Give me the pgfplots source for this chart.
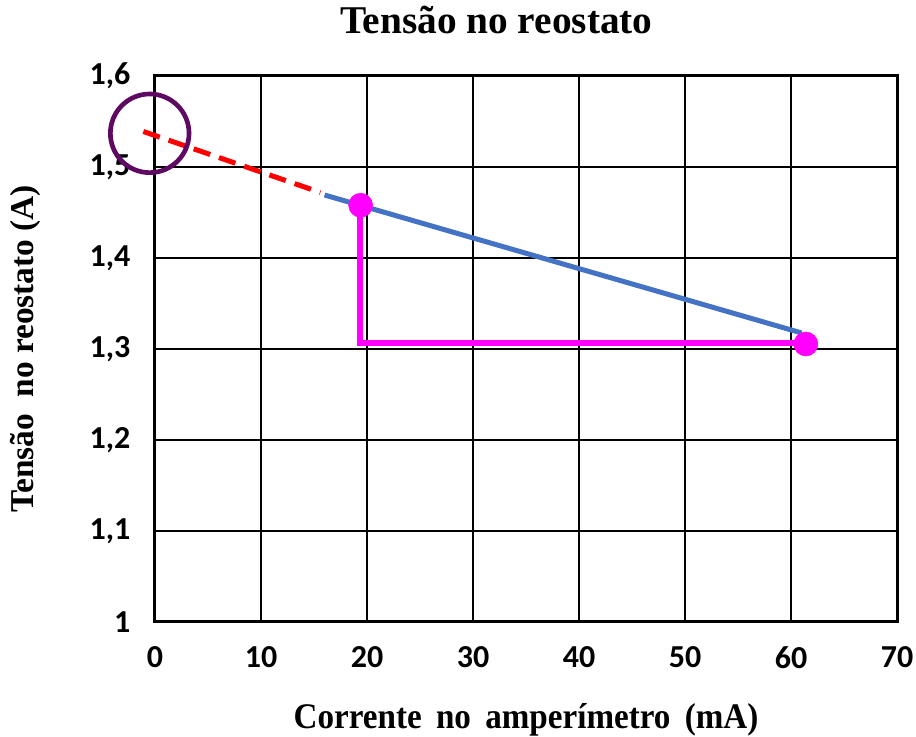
\documentclass[border=0pt]{standalone}
\usepackage{pgfplots}
\pgfplotsset{compat=1.18}
\usepackage{fontspec}
\setmainfont{Liberation Serif}
\newfontfamily\condserif[FakeStretch=0.92]{Liberation Serif}
\newfontfamily\tickfont{Carlito}
\usetikzlibrary{calc}
\definecolor{blueline}{HTML}{4472C4}
\definecolor{circpurple}{HTML}{5E0A62}
\definecolor{pinkm}{HTML}{FF00FF}
\begin{document}
\begin{tikzpicture}
\begin{axis}[name=ax,
  at={(0,0)}, anchor=south west,
  scale only axis, width=556.5pt, height=409.5pt,
  xmin=0, xmax=70, ymin=1, ymax=1.6,
  xtick={0,10,...,70}, ytick={1,1.1,1.2,1.3,1.4,1.5,1.6},
  major tick length=0pt,
  grid=major, major grid style={black, line width=1.5pt},
  axis line style={black, line width=2.25pt},
  clip=false,
  /pgf/number format/assume math mode=true,
  ticklabel style={font=\tickfont\bfseries\fontsize{24}{28}\selectfont},
  y tick label style={/pgf/number format/use comma, /pgf/number format/fixed, /pgf/number format/precision=1, xshift=-15pt},
  x tick label style={yshift=-15pt},
  title={\bfseries\fontsize{29.5}{34}\selectfont Tensão no reostato},
  title style={at={(axis description cs:0.46,1.088)}, anchor=center},
  xlabel={\condserif\bfseries\fontsize{27}{31}\selectfont Corrente\, no\, amperímetro\, (mA)},
  xlabel style={at={(axis description cs:0.5,-0.18)}, anchor=center},
  ylabel={\bfseries\fontsize{25}{30}\selectfont Tensão\ \ no reostato (A)},
  ylabel style={at={(axis description cs:-0.175,0.5)}, anchor=center},
]
% red dashed extrapolation
\addplot[red, line width=3.75pt, dash pattern=on 13pt off 7pt] coordinates {(-1.1,1.539) (15.6,1.472)};
% blue fit line
\addplot[blueline, line width=3.75pt] coordinates {(16.0,1.4692) (61.0,1.3176)};
% magenta triangle legs
\addplot[pinkm, line width=4.5pt] coordinates {(19.3,1.455) (19.3,1.3066) (61.3,1.3066)};
% magenta points
\addplot[only marks, mark=*, mark size=9pt, pinkm, mark options={draw=pinkm, fill=pinkm}] coordinates {(19.4,1.458) (61.4,1.3055)};
% purple circle around intercept
\addplot[only marks, mark=o, mark size=29.5pt, mark options={draw=circpurple, line width=3.5pt, fill=none}] coordinates {(-0.5,1.537)};
\end{axis}
\pgfresetboundingbox
\path[use as bounding box] ($(ax.south west)+(-116.25pt,-86.25pt)$) rectangle ($(ax.south west)+(570.75pt,466.5pt)$);
\end{tikzpicture}
\end{document}
